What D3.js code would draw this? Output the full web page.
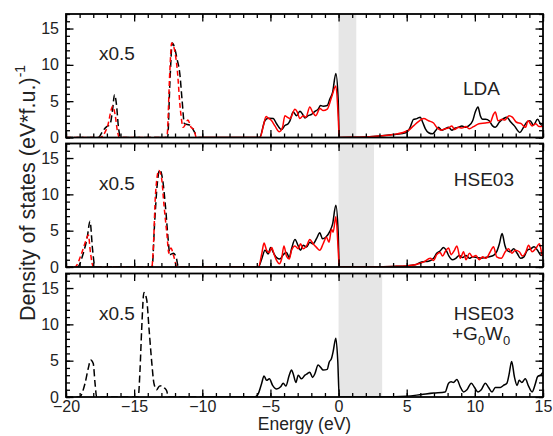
<!DOCTYPE html>
<html>
<head>
<meta charset="utf-8">
<script src="https://cdn.jsdelivr.net/npm/d3@7"></script>
<style>
  body { margin: 0; background: #fff; }
  text { font-family: "Liberation Sans", Arial, sans-serif; fill: #222; }
</style>
</head>
<body>
<svg id="fig" width="553" height="436"></svg>
<script>
// tick values, shared by all three panels
var energyTicks = [-20, -15, -10, -5, 0, 5, 10, 15];
var dosTicks = [0, 5, 10, 15];
var panelNames = ["LDA", "HSE03", "HSE03 +G0W0"];
var gapTop = [1.3, 2.6, 3.2];   // upper edge of the shaded gap (eV)

// semicore peaks, drawn dashed (already scaled x0.5)
var ldaCoreBlack = [[-20,0],[-17.63,0],[-17.26,1.0],[-17.01,1.5],[-16.77,1.8],[-16.59,3.7],[-16.44,5.9],[-16.3,4.6],[-16.15,1.4],[-16.0,0],[-12.54,0],[-12.38,7.4],[-12.2,13.0],[-12.04,12.4],[-11.85,10.8],[-11.65,8.8],[-11.48,5.1],[-11.31,1.9],[-11.11,1.8],[-10.87,1.7],[-10.67,1.1],[-10.5,0.5],[-10.37,0],[-10,0]];
var ldaCoreRed = [[-20,0],[-17.5,0],[-17.14,0.7],[-16.9,1.9],[-16.7,3.7],[-16.58,4.3],[-16.4,3.2],[-16.23,0.9],[-16.1,0],[-12.6,0],[-12.38,9.2],[-12.25,13.0],[-12.08,12.4],[-11.85,9.6],[-11.6,3.7],[-11.4,1.4],[-11.24,1.8],[-11.06,2.4],[-10.82,1.4],[-10.62,1.1],[-10.43,0],[-10,0]];
var hseCoreBlack = [[-20,0],[-19.17,0],[-18.73,1.9],[-18.44,4.1],[-18.24,6.3],[-18.05,2.4],[-17.87,0],[-13.68,0],[-13.5,6.0],[-13.3,11.5],[-13.12,13.4],[-12.9,11.9],[-12.7,8.3],[-12.5,3.7],[-12.38,1.7],[-12.1,1.9],[-11.9,1.2],[-11.75,0],[-10,0]];
var hseCoreRed = [[-20,0],[-19.35,0],[-18.85,1.9],[-18.53,3.7],[-18.36,4.4],[-18.2,1.9],[-17.99,0],[-13.7,0],[-13.6,2.4],[-13.43,10.1],[-13.19,13.3],[-13.0,12.4],[-12.8,8.3],[-12.6,4.6],[-12.45,1.9],[-12.3,2.6],[-12.1,1.5],[-11.85,0],[-10,0]];
var gwCoreBlack = [[-20,0],[-19.02,0],[-18.6,1.9],[-18.36,4.0],[-18.19,5.1],[-18.0,4.6],[-17.87,1.9],[-17.75,0],[-14.7,0],[-14.57,3.7],[-14.45,9.2],[-14.28,14.4],[-14.08,13.4],[-13.9,9.2],[-13.7,4.6],[-13.55,1.9],[-13.35,1.0],[-13.15,1.5],[-13.0,1.55],[-12.75,1.2],[-12.6,0.8],[-12.5,0],[-10,0]];

// valence + conduction bands, drawn solid
var ldaBandBlack = [[-10,0],[-5.8,0],[-5.4,2.34],[-5.16,2.66],[-4.79,2.6],[-4.55,1.9],[-4.18,1.1],[-3.94,1.65],[-3.7,1.9],[-3.57,2.3],[-3.33,3.5],[-3.08,3.0],[-2.84,3.6],[-2.64,3.2],[-2.47,2.7],[-2.23,3.0],[-1.98,3.2],[-1.74,3.6],[-1.5,3.9],[-1.32,4.4],[-1.13,4.3],[-0.83,4.4],[-0.64,5.3],[-0.44,6.2],[-0.2,8.8],[-0.03,5.3],[0.05,0],[1,0.02],[2,0.08],[3,0.2],[4,0.4],[5,0.7],[5.25,1.4],[5.5,2.5],[5.74,2.6],[6.0,2.8],[6.17,2.1],[6.37,1.2],[6.61,0.65],[6.9,0.5],[7.14,1.0],[7.33,1.4],[7.58,1.0],[7.82,1.2],[8.07,1.4],[8.31,1.0],[8.56,1.3],[8.8,1.4],[9.05,1.6],[9.3,1.4],[9.54,1.6],[9.84,2.3],[10.03,3.5],[10.23,4.2],[10.4,3.0],[10.57,2.5],[10.8,2.5],[11.05,2.3],[11.3,1.6],[11.5,1.4],[11.79,2.1],[12.1,2.6],[12.35,2.8],[12.6,2.2],[12.9,1.6],[13.3,0.7],[13.57,1.4],[13.8,2.1],[14.05,2.3],[14.3,1.7],[14.6,2.5],[14.9,1.7],[15,1.8]];
var ldaBandRed = [[-10,0],[-5.76,0],[-5.52,1.6],[-5.32,2.9],[-5.16,2.66],[-4.91,2.3],[-4.67,1.6],[-4.35,0.8],[-4.11,1.4],[-3.94,3.0],[-3.77,2.8],[-3.57,2.6],[-3.2,3.9],[-3.03,3.5],[-2.84,2.6],[-2.6,3.0],[-2.4,2.8],[-2.11,4.2],[-1.91,3.5],[-1.67,3.0],[-1.37,4.0],[-1.13,3.7],[-0.83,3.9],[-0.52,5.5],[-0.2,7.1],[-0.03,3.0],[0.05,0],[1,0.02],[2,0.08],[3,0.2],[4,0.4],[5.13,1.0],[5.5,1.6],[5.86,2.2],[6.25,2.6],[6.6,2.3],[6.97,2.0],[7.2,1.4],[7.5,1.0],[7.82,1.2],[8.07,1.3],[8.31,1.6],[8.5,1.1],[8.8,1.4],[9.05,1.3],[9.35,1.5],[9.6,1.2],[9.9,1.5],[10.3,1.9],[10.77,2.0],[11.13,2.1],[11.37,3.2],[11.5,3.5],[11.7,2.3],[12.0,2.5],[12.2,2.4],[12.5,3.0],[12.75,2.8],[13.05,2.1],[13.4,1.9],[13.72,1.4],[13.9,2.3],[14.2,1.6],[14.47,1.9],[14.7,1.5],[15,1.5]];
var hseBandBlack = [[-10,0],[-5.88,0],[-5.64,1.1],[-5.4,2.3],[-5.16,1.8],[-4.99,2.7],[-4.79,2.0],[-4.55,1.3],[-4.3,1.1],[-4.06,1.7],[-3.82,2.0],[-3.62,1.3],[-3.45,2.5],[-3.2,3.8],[-2.96,2.9],[-2.79,2.3],[-2.6,3.0],[-2.35,2.75],[-2.11,3.4],[-1.87,3.2],[-1.62,3.9],[-1.38,4.7],[-1.18,3.9],[-0.94,4.1],[-0.64,4.9],[-0.44,5.9],[-0.2,8.5],[-0.03,4.8],[0.05,0],[2,0.02],[4,0.08],[5,0.15],[5.62,0.3],[6.1,0.7],[6.6,0.8],[6.97,1.2],[7.2,1.9],[7.45,2.2],[7.7,2.7],[7.87,2.4],[8.1,1.5],[8.35,1.0],[8.6,1.2],[8.85,1.6],[9.1,1.3],[9.35,1.6],[9.6,1.2],[9.84,1.4],[10.15,1.3],[10.47,1.2],[10.77,1.3],[11.05,1.4],[11.37,1.6],[11.6,2.1],[11.8,3.2],[12.0,4.6],[12.2,3.0],[12.35,2.3],[12.6,2.1],[12.85,2.5],[13.1,1.9],[13.35,1.2],[13.6,1.4],[13.85,2.3],[14.1,2.5],[14.35,2.8],[14.6,2.3],[14.85,1.6],[15,1.7]];
var hseBandRed = [[-10,0],[-5.88,0],[-5.64,1.8],[-5.47,3.3],[-5.28,2.3],[-5.08,2.0],[-4.91,2.7],[-4.74,1.8],[-4.55,0.9],[-4.35,0.45],[-4.18,1.1],[-4.01,2.9],[-3.82,1.5],[-3.62,1.1],[-3.45,2.3],[-3.2,2.9],[-2.96,2.5],[-2.79,3.2],[-2.6,2.5],[-2.35,2.9],[-2.11,3.8],[-1.87,3.2],[-1.62,2.7],[-1.38,2.3],[-1.13,3.2],[-0.89,4.1],[-0.7,3.4],[-0.52,5.2],[-0.4,4.8],[-0.2,6.9],[-0.03,2.5],[0.05,0],[2,0.02],[4,0.08],[5,0.15],[5.62,0.3],[6.25,0.7],[6.73,1.2],[6.97,0.9],[7.2,1.7],[7.45,2.0],[7.63,1.5],[7.82,2.1],[8.07,2.6],[8.26,1.7],[8.5,2.3],[8.68,2.9],[8.93,1.2],[9.17,2.1],[9.35,1.0],[9.6,1.9],[9.84,1.4],[10.08,1.6],[10.33,1.0],[10.57,1.4],[10.82,1.2],[11.13,2.1],[11.37,2.8],[11.6,1.4],[11.94,1.2],[12.23,2.1],[12.47,2.5],[12.72,1.9],[12.96,2.3],[13.26,2.1],[13.5,1.5],[13.75,2.1],[13.94,3.0],[14.2,2.1],[14.45,2.5],[14.74,3.2],[14.93,1.7],[15,1.5]];
var gwBandBlack = [[-10,0],[-6.13,0],[-5.88,0.5],[-5.64,1.9],[-5.47,2.9],[-5.28,2.3],[-5.08,2.5],[-4.84,1.6],[-4.55,1.1],[-4.25,1.4],[-4.06,1.9],[-3.87,1.5],[-3.62,3.0],[-3.45,3.7],[-3.33,3.2],[-3.13,2.0],[-2.96,3.0],[-2.72,2.5],[-2.47,3.0],[-2.3,3.2],[-2.11,3.4],[-1.91,2.7],[-1.74,3.2],[-1.5,4.4],[-1.32,4.1],[-1.13,3.7],[-0.83,3.8],[-0.69,4.8],[-0.52,5.3],[-0.4,6.25],[-0.2,8.1],[-0.06,5.0],[0.05,0],[3.2,0],[5,0.1],[6.1,0.35],[6.97,0.55],[7.82,0.7],[8.07,1.9],[8.26,2.1],[8.43,2.0],[8.68,2.4],[8.93,1.4],[9.17,0.7],[9.42,1.0],[9.74,1.9],[9.98,1.3],[10.23,0.7],[10.47,1.0],[10.77,1.9],[11.01,1.3],[11.26,0.7],[11.5,1.3],[11.87,1.3],[12.1,1.6],[12.35,1.9],[12.5,3.0],[12.7,4.9],[12.9,2.8],[13.1,1.6],[13.25,2.3],[13.45,2.0],[13.7,2.5],[13.94,1.5],[14.2,0.7],[14.45,1.9],[14.6,2.8],[14.87,3.1],[15,3.4]];

var left = 66, right = 543;
var panelTop = [14, 143.5, 273.5];
var panelH = 123.5;

var svg = d3.select("#fig");
var x = d3.scaleLinear().domain([-20, 15]).range([left, right]);

var panels = [
    {core: [ldaCoreBlack, ldaCoreRed], band: [ldaBandBlack, ldaBandRed]},
    {core: [hseCoreBlack, hseCoreRed], band: [hseBandBlack, hseBandRed]},
    {core: [gwCoreBlack], band: [gwBandBlack]}
];
var colors = ["#000", "#f00"];
var dashes = ["7,3.5", "5,3"];

panels.forEach(function(p, i){
    var top = panelTop[i];
    var y = d3.scaleLinear().domain([0, 17]).range([top + panelH, top]);
    var g = svg.append("g");

    // clip so lines stay inside the frame
    svg.append("clipPath").attr("id", "clip" + i)
        .append("rect").attr("x", left).attr("y", top).attr("width", right - left).attr("height", panelH);

    // shaded band gap
    g.append("rect")
        .attr("x", x(0)).attr("y", top)
        .attr("width", x(gapTop[i]) - x(0)).attr("height", panelH)
        .style("fill", "#e6e6e6");

    var line = d3.line().x(function(d){ return x(d[0]); }).y(function(d){ return y(d[1]); })
        .curve(d3.curveMonotoneX);
    var lines = g.append("g").attr("clip-path", "url(#clip" + i + ")");
    p.core.forEach(function(s, k){
        lines.append("path").attr("d", line(s))
            .style("fill", "none").style("stroke", colors[k]).style("stroke-width", 1.5)
            .style("stroke-dasharray", dashes[k]);
    });
    p.band.forEach(function(s, k){
        lines.append("path").attr("d", line(s))
            .style("fill", "none").style("stroke", colors[k]).style("stroke-width", 1.5);
    });

    // ticks on all four sides, pointing in
    var minorX = d3.range(-20, 16, 1), minorY = d3.range(0, 18, 1);
    function addAxis(axis, tx, ty){
        var a = g.append("g").attr("transform", "translate(" + tx + "," + ty + ")").call(axis);
        a.select(".domain").remove();
        a.selectAll("line").style("stroke", "#000").style("stroke-width", 1.3);
        return a;
    }
    addAxis(d3.axisTop(x).tickValues(minorX).tickSize(-4).tickFormat(""), 0, top);
    addAxis(d3.axisTop(x).tickValues(energyTicks).tickSize(-7.5).tickFormat(""), 0, top);
    addAxis(d3.axisBottom(x).tickValues(minorX).tickSize(-4).tickFormat(""), 0, top + panelH);
    var bx = addAxis(d3.axisBottom(x).tickValues(energyTicks).tickSize(-7.5).tickPadding(4)
        .tickFormat(i == 2 ? d3.format("d") : ""), 0, top + panelH);
    bx.selectAll("text").style("font-size", "16px").style("fill", "#222");
    addAxis(d3.axisLeft(y).tickValues(minorY).tickSize(-4).tickFormat(""), left, 0);
    var ly = addAxis(d3.axisLeft(y).tickValues(dosTicks).tickSize(-7.5).tickPadding(7), left, 0);
    ly.selectAll("text").style("font-size", "16px").style("fill", "#222");
    addAxis(d3.axisRight(y).tickValues(minorY).tickSize(-4).tickFormat(""), right, 0);
    addAxis(d3.axisRight(y).tickValues(dosTicks).tickSize(-7.5).tickFormat(""), right, 0);

    // frame
    g.append("rect").attr("x", left).attr("y", top).attr("width", right - left).attr("height", panelH)
        .style("fill", "none").style("stroke", "#000").style("stroke-width", 1.8);

    g.append("text").attr("x", 99).attr("y", top + 46).style("font-size", "19px").text("x0.5");
});

// panel names
svg.append("text").attr("x", 500).attr("y", 95).attr("text-anchor", "end").style("font-size", "19px").text(panelNames[0]);
svg.append("text").attr("x", 514).attr("y", 186).attr("text-anchor", "end").style("font-size", "19px").text(panelNames[1]);
svg.append("text").attr("x", 514).attr("y", 320).attr("text-anchor", "end").style("font-size", "19px").text(panelNames[2].split(" ")[0]);
var gw = svg.append("text").attr("x", 452).attr("y", 340).style("font-size", "19px");
gw.append("tspan").text("+G");
gw.append("tspan").attr("dy", 5).style("font-size", "13px").text("0");
gw.append("tspan").attr("dy", -5).text("W");
gw.append("tspan").attr("dy", 5).style("font-size", "13px").text("0");

// axis titles
svg.append("text").attr("x", (left + right) / 2).attr("y", 430).attr("text-anchor", "middle")
    .style("font-size", "17.5px").text("Energy (eV)");
var yt = svg.append("text").attr("transform", "translate(35,193) rotate(-90)")
    .attr("text-anchor", "middle").style("font-size", "21.5px");
yt.append("tspan").text("Density of states (eV*f.u.)");
yt.append("tspan").attr("dy", -10).style("font-size", "14px").text("-1");
</script>
</body>
</html>
